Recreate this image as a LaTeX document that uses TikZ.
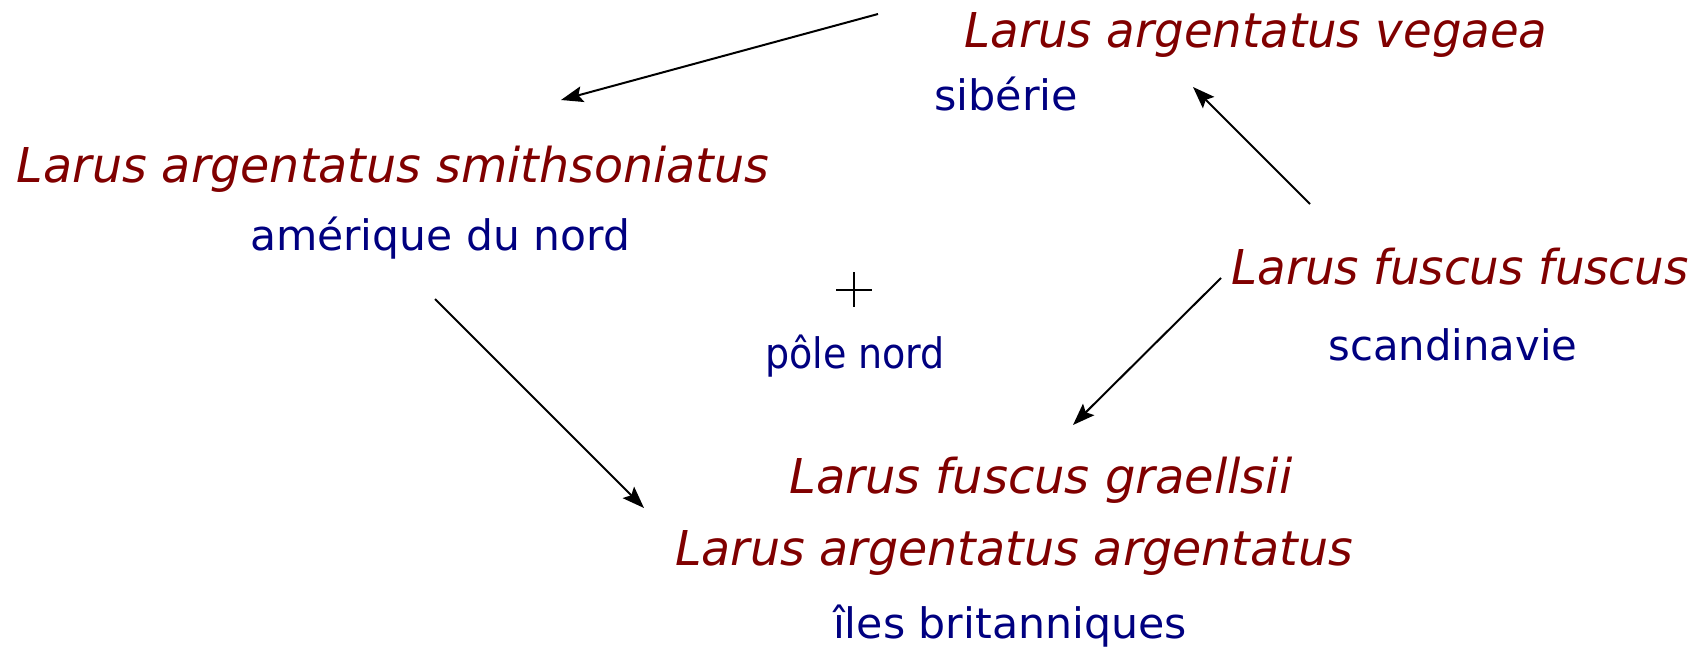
\documentclass[tikz,border=0pt]{standalone}
\usepackage{fontspec}
\setmainfont{DejaVu Sans}
\usetikzlibrary{arrows.meta}
\definecolor{sp}{RGB}{128,0,0}
\definecolor{rg}{RGB}{0,0,128}
\newcommand{\fitw}[2]{\resizebox{#1}{\height}{#2}}
\begin{document}
\begin{tikzpicture}[x=1pt,y=-1pt,
  species/.style={anchor=base,inner sep=0pt,text=sp,font=\fontsize{48}{54}\selectfont\itshape},
  region/.style={anchor=base,inner sep=0pt,text=rg,font=\fontsize{42}{48}\selectfont},
  link/.style={line width=2pt,-{Stealth[length=22pt,width=16pt,inset=4pt]}},
  mark line/.style={line width=2pt}]
\useasboundingbox (0,0) rectangle (1702,648);
\node[species] (veg) at (1256,47) {\fitw{583pt}{Larus argentatus vegaea}};
\node[region] (sib) at (1006,110) {\fitw{144pt}{sibérie}};
\node[species] (smi) at (393,182) {\fitw{752pt}{Larus argentatus smithsoniatus}};
\node[region] (ame) at (440,250) {\fitw{380pt}{amérique du nord}};
\node[species] (fus) at (1460,284) {\fitw{457pt}{Larus fuscus fuscus}};
\node[region] (sca) at (1453,360) {\fitw{249pt}{scandinavie}};
\node[region] (pol) at (855,368) {\fitw{180pt}{pôle nord}};
\node[species] (gra) at (1041,493) {\fitw{503pt}{Larus fuscus graellsii}};
\node[species] (arg) at (1014,565) {\fitw{678pt}{Larus argentatus argentatus}};
\node[region] (ile) at (1010,638) {\fitw{354pt}{îles britanniques}};
\coordinate (pole) at (854,290);
\draw[mark line] (pole) ++(-18,0) -- ++(36,0);
\draw[mark line] (pole) ++(0,-18) -- ++(0,35);
\coordinate (a1s) at (878,14);
\coordinate (a1e) at (561,100);
\coordinate (a2s) at (1310,204);
\coordinate (a2e) at (1193,87);
\coordinate (a3s) at (1221,278);
\coordinate (a3e) at (1073,425);
\coordinate (a4s) at (435,299);
\coordinate (a4e) at (644,508);
\draw[link] (a1s) -- (a1e);
\draw[link] (a2s) -- (a2e);
\draw[link] (a3s) -- (a3e);
\draw[link] (a4s) -- (a4e);
\end{tikzpicture}
\end{document}
